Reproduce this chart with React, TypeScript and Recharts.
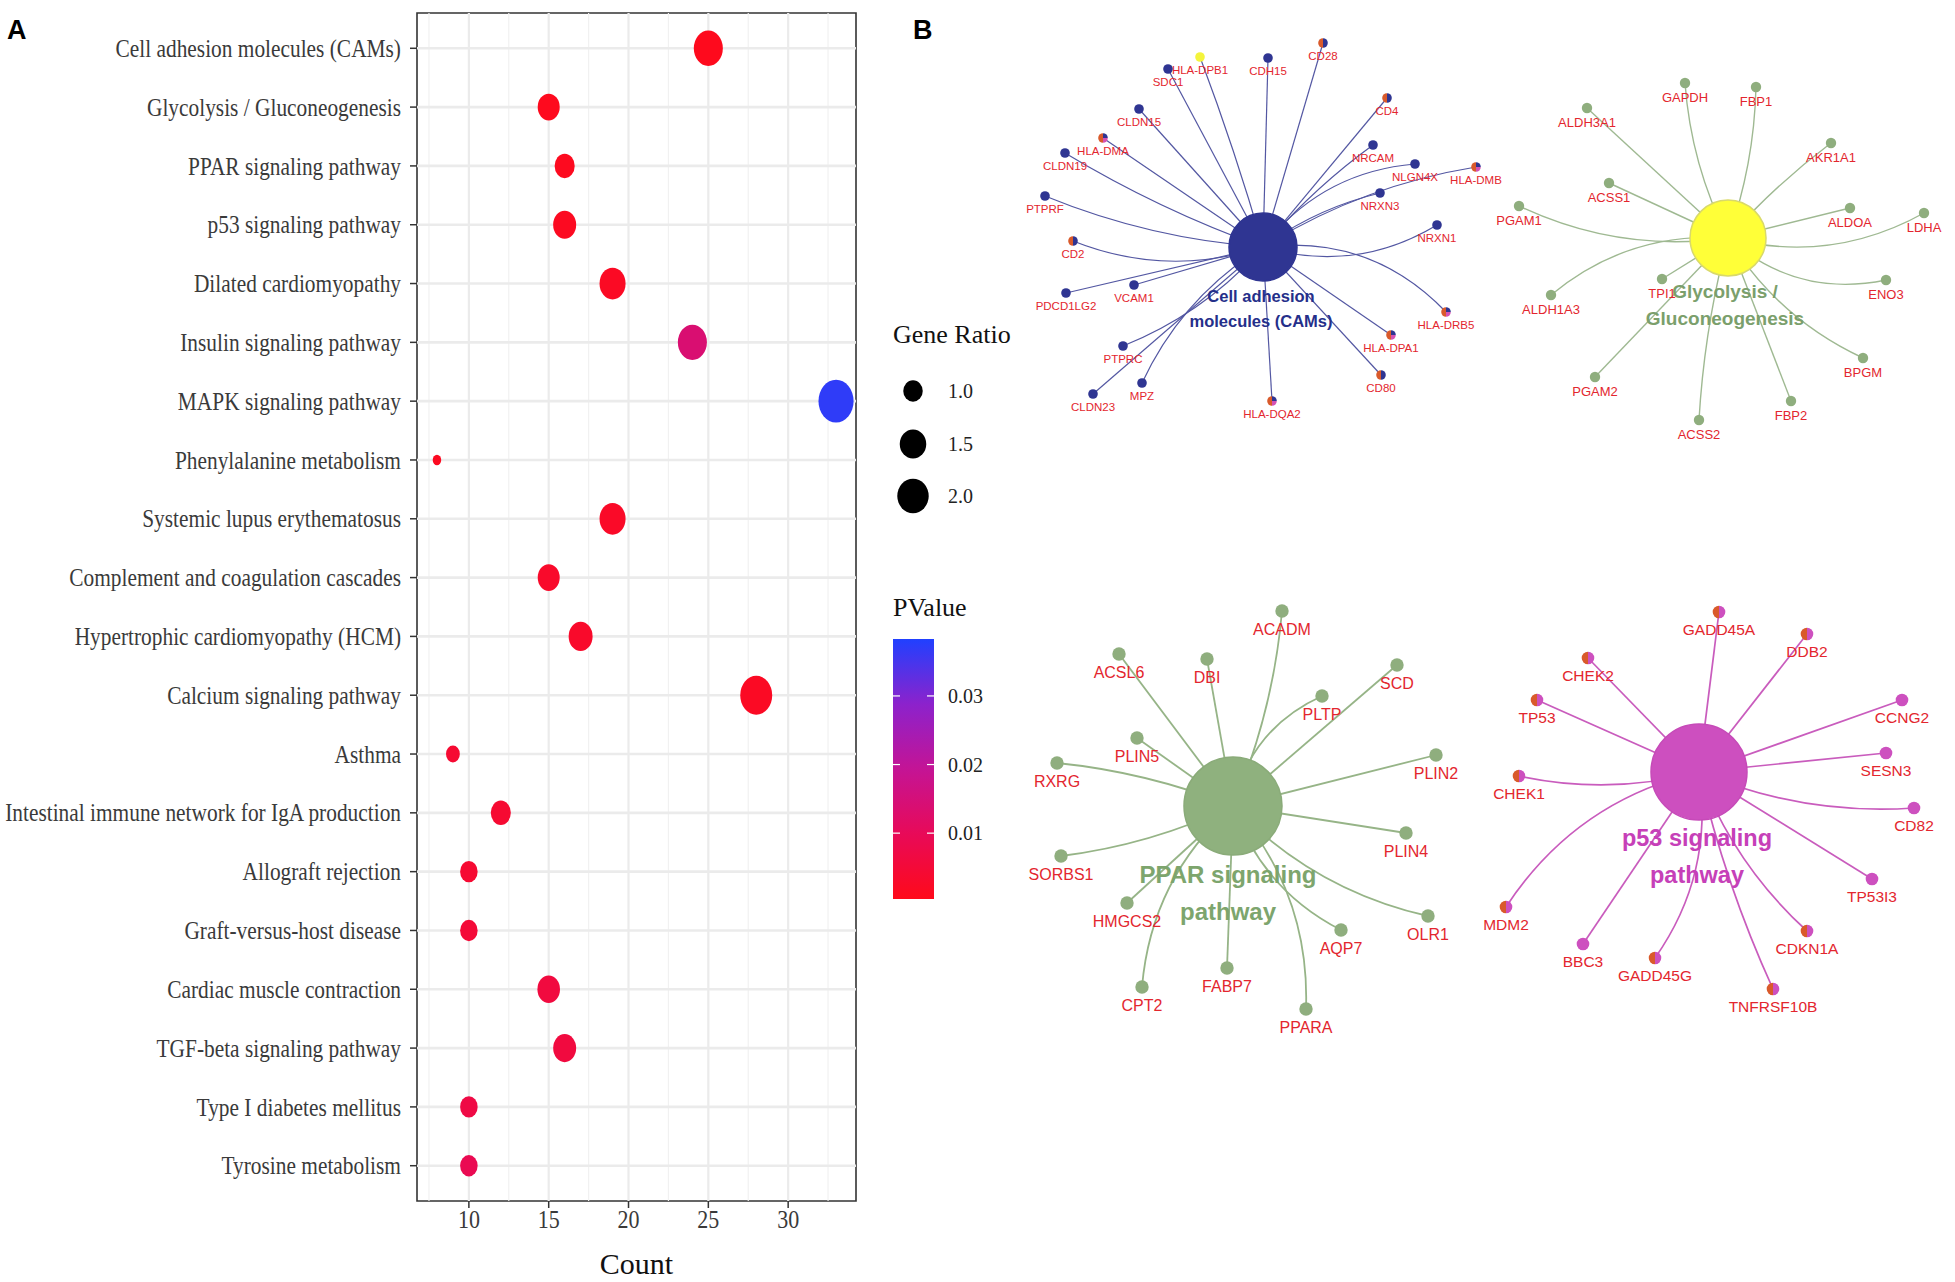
import React from "react";
import { ScatterChart, Scatter, XAxis, YAxis, ReferenceLine, ReferenceArea } from "recharts";

// ---- panel A: KEGG enrichment dot plot ----
const pathways = [
  "Cell adhesion molecules (CAMs)",
  "Glycolysis / Gluconeogenesis",
  "PPAR signaling pathway",
  "p53 signaling pathway",
  "Dilated cardiomyopathy",
  "Insulin signaling pathway",
  "MAPK signaling pathway",
  "Phenylalanine metabolism",
  "Systemic lupus erythematosus",
  "Complement and coagulation cascades",
  "Hypertrophic cardiomyopathy (HCM)",
  "Calcium signaling pathway",
  "Asthma",
  "Intestinal immune network for IgA production",
  "Allograft rejection",
  "Graft-versus-host disease",
  "Cardiac muscle contraction",
  "TGF-beta signaling pathway",
  "Type I diabetes mellitus",
  "Tyrosine metabolism",
];
const counts = [25, 15, 16, 16, 19, 24, 33, 8, 19, 15, 17, 28, 9, 12, 10, 10, 15, 16, 10, 10];
const geneRatios = [1.74, 1.15, 1.03, 1.22, 1.46, 1.74, 2.45, 0.7, 1.46, 1.15, 1.29, 2.06, 0.77, 1.03, 0.9, 0.9, 1.19, 1.22, 0.9, 0.9];
const pValues = [0.0008, 0.001, 0.0012, 0.0015, 0.002, 0.0138, 0.037, 0.0015, 0.0025, 0.003, 0.003, 0.002, 0.004, 0.004, 0.004, 0.005, 0.006, 0.006, 0.007, 0.009];

const countTicks = [10, 15, 20, 25, 30];
const countMajor = [10, 15, 20, 25, 30];
const countMinor = [7.5, 12.5, 17.5, 22.5, 27.5, 32.5];
const ratioBreaks = [1.0, 1.5, 2.0];
const pBreaks = [0.01, 0.02, 0.03];

const P_MIN = 0.0004;
const P_MAX = 0.0383;
const R_MIN = 0.7;
const R_MAX = 2.5;

// ---- panel B: gene-concept networks ----
// [gene, layout x, layout y, membership colours, edge bend]
type Gene = [string, number, number, string, number];

const camsHub = [1263, 247];
const camsGenes: Gene[] = [
  ["HLA-DPB1", 1200, 57, "y", 0.02],
  ["SDC1", 1168, 69, "b", 0],
  ["CDH15", 1268, 58, "b", 0],
  ["CD28", 1323, 43, "ob", 0],
  ["CLDN15", 1139, 109, "b", 0],
  ["CD4", 1387, 98, "ob", 0],
  ["HLA-DMA", 1103, 138, "opb", 0],
  ["NRCAM", 1373, 145, "b", -0.06],
  ["CLDN19", 1065, 153, "b", -0.05],
  ["NLGN4X", 1415, 164, "b", -0.22],
  ["HLA-DMB", 1476, 167, "opb", -0.1],
  ["NRXN3", 1380, 193, "b", -0.1],
  ["PTPRF", 1045, 196, "b", -0.08],
  ["NRXN1", 1437, 225, "b", 0.22],
  ["CD2", 1073, 241, "ob", -0.18],
  ["VCAM1", 1134, 285, "b", 0],
  ["PDCD1LG2", 1066, 293, "b", 0],
  ["HLA-DRB5", 1446, 312, "opb", -0.25],
  ["HLA-DPA1", 1391, 335, "opb", 0],
  ["PTPRC", 1123, 346, "b", -0.12],
  ["CD80", 1381, 375, "ob", 0],
  ["MPZ", 1142, 383, "b", 0.15],
  ["CLDN23", 1093, 394, "b", 0],
  ["HLA-DQA2", 1272, 401, "opb", 0],
];

const glycoHub = [1728, 238];
const glycoGenes: Gene[] = [
  ["GAPDH", 1685, 83, "g", -0.1],
  ["FBP1", 1756, 87, "g", 0.08],
  ["ALDH3A1", 1587, 108, "g", 0],
  ["AKR1A1", 1831, 143, "g", -0.05],
  ["ACSS1", 1609, 183, "g", 0],
  ["PGAM1", 1519, 206, "g", -0.15],
  ["ALDOA", 1850, 208, "g", 0],
  ["LDHA", 1924, 213, "g", 0.2],
  ["TPI1", 1662, 279, "g", 0],
  ["ENO3", 1886, 280, "g", 0.25],
  ["ALDH1A3", 1551, 295, "g", 0.2],
  ["BPGM", 1863, 358, "g", 0.15],
  ["PGAM2", 1595, 377, "g", 0],
  ["FBP2", 1791, 401, "g", 0],
  ["ACSS2", 1699, 420, "g", 0.05],
];

const pparHub = [1233, 806];
const pparGenes: Gene[] = [
  ["ACADM", 1282, 611, "g", 0.08],
  ["ACSL6", 1119, 654, "g", 0],
  ["DBI", 1207, 659, "g", 0],
  ["SCD", 1397, 665, "g", 0],
  ["PLTP", 1322, 696, "g", -0.25],
  ["PLIN5", 1137, 738, "g", 0],
  ["PLIN2", 1436, 755, "g", 0],
  ["RXRG", 1057, 763, "g", 0.07],
  ["PLIN4", 1406, 833, "g", 0],
  ["SORBS1", 1061, 856, "g", -0.08],
  ["HMGCS2", 1127, 903, "g", 0],
  ["OLR1", 1428, 916, "g", 0.15],
  ["AQP7", 1341, 930, "g", 0.2],
  ["FABP7", 1227, 968, "g", 0],
  ["CPT2", 1142, 987, "g", 0.2],
  ["PPARA", 1306, 1009, "g", -0.2],
];

const p53Hub = [1699, 772];
const p53Genes: Gene[] = [
  ["GADD45A", 1719, 612, "om", 0],
  ["DDB2", 1807, 634, "om", 0],
  ["CHEK2", 1588, 658, "om", 0],
  ["CCNG2", 1902, 700, "m", 0],
  ["TP53", 1537, 700, "om", 0],
  ["SESN3", 1886, 753, "m", 0],
  ["CHEK1", 1519, 776, "om", -0.12],
  ["CD82", 1914, 808, "m", 0.12],
  ["TP53I3", 1872, 879, "m", 0],
  ["MDM2", 1506, 907, "om", 0.2],
  ["CDKN1A", 1807, 931, "om", 0.12],
  ["BBC3", 1583, 944, "m", 0],
  ["GADD45G", 1655, 958, "om", -0.2],
  ["TNFRSF10B", 1773, 989, "om", 0.05],
];

const SERIF = "'Liberation Serif', 'Times New Roman', serif";
const SANS = "'Liberation Sans', Arial, sans-serif";

const rampStops = ["#ff0a1a", "#e80a58", "#c41495", "#8c22cc", "#2040ff"];

const memberFill: Record<string, string> = {
  b: "#2f3592",
  o: "#d95a2b",
  p: "#d452b4",
  y: "#f4f43c",
  g: "#8fae7e",
  m: "#cd50bf",
};

function hexRgb(h: string) {
  const n = parseInt(h.slice(1), 16);
  return [(n >> 16) & 255, (n >> 8) & 255, n & 255];
}

function pColor(p: number) {
  const t = Math.max(0, Math.min(1, (p - P_MIN) / (P_MAX - P_MIN)));
  const seg = t * (rampStops.length - 1);
  const i = Math.min(rampStops.length - 2, Math.floor(seg));
  const f = seg - i;
  const a = hexRgb(rampStops[i]);
  const b = hexRgb(rampStops[i + 1]);
  const c = a.map((v, k) => Math.round(v + (b[k] - v) * f));
  return `rgb(${c[0]},${c[1]},${c[2]})`;
}

function dotWidth(r: number) {
  const t = Math.max(0, Math.min(1, (r - R_MIN) / (R_MAX - R_MIN)));
  return 8.5 + 27 * Math.sqrt(t);
}

const dotData = pathways.map((name, i) => ({
  name,
  rank: i + 1,
  count: counts[i],
  ratio: geneRatios[i],
  p: pValues[i],
}));

const PathwayTick = (props: any) => {
  const { x, y, payload } = props;
  return (
    <text
      transform={`translate(${x},${y}) scale(0.855,1)`}
      textAnchor="end"
      dominantBaseline="central"
      fontSize={25}
      fill="#3a3a3a"
      fontFamily={SERIF}
    >
      {pathways[payload.value - 1]}
    </text>
  );
};

const CountTick = (props: any) => {
  const { x, y, payload } = props;
  return (
    <text
      transform={`translate(${x},${y}) scale(0.88,1)`}
      textAnchor="middle"
      dy="0.71em"
      fontSize={25}
      fill="#3a3a3a"
      fontFamily={SERIF}
    >
      {payload.value}
    </text>
  );
};

const EnrichDot = (props: any) => {
  const { cx, cy, payload } = props;
  const w = dotWidth(payload.ratio);
  return <ellipse cx={cx} cy={cy} rx={w / 2} ry={(w * 1.22) / 2} fill={pColor(payload.p)} />;
};

function DotPlot() {
  return (
    <ScatterChart width={870} height={1282} margin={{ top: 13, right: 14, bottom: 0, left: 0 }}>
      <XAxis
        type="number"
        dataKey="count"
        domain={[6.75, 34.25]}
        ticks={countTicks}
        allowDataOverflow
        axisLine={false}
        tickSize={7}
        tickMargin={2}
        tickLine={{ stroke: "#333", strokeWidth: 1.5 }}
        tick={<CountTick />}
        height={81}
        label={{ value: "Count", position: "insideBottom", offset: 8, fontSize: 30, fill: "#111", fontFamily: SERIF }}
      />
      <YAxis
        type="number"
        dataKey="rank"
        domain={[0.4, 20.6]}
        reversed
        allowDataOverflow
        ticks={pathways.map((_, i) => i + 1)}
        interval={0}
        axisLine={false}
        tickSize={7}
        tickMargin={9}
        tickLine={{ stroke: "#333", strokeWidth: 1.5 }}
        tick={<PathwayTick />}
        width={417}
      />
      {countMinor.map((v) => (
        <ReferenceLine key={`mn${v}`} x={v} stroke="#f1f1f1" strokeWidth={1.2} />
      ))}
      {countMajor.map((v) => (
        <ReferenceLine key={`mj${v}`} x={v} stroke="#ebebeb" strokeWidth={2.2} />
      ))}
      {pathways.map((_, i) => (
        <ReferenceLine key={`h${i}`} y={i + 1} stroke="#ebebeb" strokeWidth={2.6} />
      ))}
      <ReferenceArea
        x1={6.75}
        x2={34.25}
        y1={0.4}
        y2={20.6}
        fill="none"
        fillOpacity={0}
        stroke="#333"
        strokeWidth={1.6}
        ifOverflow="visible"
      />
      <Scatter data={dotData} shape={<EnrichDot />} isAnimationActive={false} />
    </ScatterChart>
  );
}

type NetStyle = {
  key: string;
  hub: number[];
  genes: Gene[];
  title: string[];
  hubR: number;
  hubFill: string;
  hubStroke: string;
  hubText: string;
  hubFont: number;
  titleDy: number[];
  titleDx: number;
  edge: string;
  edgeW: number;
  nodeR: number;
  font: number;
  labelDy: number;
};

const nets: NetStyle[] = [
  {
    key: "cams",
    hub: camsHub,
    genes: camsGenes,
    title: ["Cell adhesion", "molecules (CAMs)"],
    hubR: 34,
    hubFill: "#2f3592",
    hubStroke: "#2f3592",
    hubText: "#252f8a",
    hubFont: 16.5,
    titleDy: [49, 74],
    titleDx: -2,
    edge: "#5357a2",
    edgeW: 1.2,
    nodeR: 4.8,
    font: 11.5,
    labelDy: 12.5,
  },
  {
    key: "glyco",
    hub: glycoHub,
    genes: glycoGenes,
    title: ["Glycolysis /", "Gluconeogenesis"],
    hubR: 38,
    hubFill: "#ffff38",
    hubStroke: "#d9d96a",
    hubText: "#7b9f6c",
    hubFont: 19,
    titleDy: [53, 80],
    titleDx: -3,
    edge: "#9fb992",
    edgeW: 1.4,
    nodeR: 5.2,
    font: 13,
    labelDy: 14,
  },
  {
    key: "ppar",
    hub: pparHub,
    genes: pparGenes,
    title: ["PPAR signaling", "pathway"],
    hubR: 49,
    hubFill: "#8fb17e",
    hubStroke: "#8aab79",
    hubText: "#7da56d",
    hubFont: 24,
    titleDy: [68, 105],
    titleDx: -5,
    edge: "#96b487",
    edgeW: 1.8,
    nodeR: 6.7,
    font: 16,
    labelDy: 18,
  },
  {
    key: "p53",
    hub: p53Hub,
    genes: p53Genes,
    title: ["p53 signaling", "pathway"],
    hubR: 48,
    hubFill: "#cd4fbf",
    hubStroke: "#c64ab8",
    hubText: "#c640b8",
    hubFont: 23.5,
    titleDy: [66, 103],
    titleDx: -2,
    edge: "#c95cbd",
    edgeW: 1.7,
    nodeR: 6.3,
    font: 15.5,
    labelDy: 17.5,
  },
];

// Draws hub->gene edges as gentle quadratic arcs, from the pixel points the Scatter hands over.
function makeEdgeRenderer(net: NetStyle) {
  return (props: any) => {
    const pts: { x: number; y: number }[] = props.points || [];
    const paths: React.ReactNode[] = [];
    for (let i = 0; i + 1 < pts.length; i += 2) {
      const a = pts[i];
      const b = pts[i + 1];
      const bend = net.genes[i / 2][4];
      const dx = b.x - a.x;
      const dy = b.y - a.y;
      const mx = (a.x + b.x) / 2 - dy * bend;
      const my = (a.y + b.y) / 2 + dx * bend;
      paths.push(
        <path
          key={i}
          d={`M${a.x},${a.y} Q${mx},${my} ${b.x},${b.y}`}
          fill="none"
          stroke={net.edge}
          strokeWidth={net.edgeW}
        />
      );
    }
    return <g>{paths}</g>;
  };
}

function GeneNode(props: any) {
  const { cx, cy, payload } = props;
  const r = payload.r;
  const m: string = payload.m;
  let body: React.ReactNode;
  if (m.length === 1) {
    body = <circle cx={cx} cy={cy} r={r} fill={memberFill[m]} />;
  } else if (m.length === 2) {
    body = (
      <g>
        <path d={`M${cx},${cy - r} A${r},${r} 0 0 0 ${cx},${cy + r} Z`} fill={memberFill[m[0]]} />
        <path d={`M${cx},${cy - r} A${r},${r} 0 0 1 ${cx},${cy + r} Z`} fill={memberFill[m[1]]} />
      </g>
    );
  } else {
    body = (
      <g>
        <path d={`M${cx},${cy - r} A${r},${r} 0 0 0 ${cx},${cy + r} Z`} fill={memberFill[m[0]]} />
        <path d={`M${cx},${cy} L${cx + r},${cy} A${r},${r} 0 0 1 ${cx},${cy + r} Z`} fill={memberFill[m[1]]} />
        <path d={`M${cx},${cy} L${cx},${cy - r} A${r},${r} 0 0 1 ${cx + r},${cy} Z`} fill={memberFill[m[2]]} />
      </g>
    );
  }
  return (
    <g>
      {body}
      <text
        x={cx}
        y={cy + payload.dy}
        textAnchor="middle"
        dominantBaseline="central"
        fontSize={payload.font}
        fontFamily={SANS}
        fill="#e3262e"
      >
        {payload.name}
      </text>
    </g>
  );
}

function HubNode(props: any) {
  const { cx, cy, payload } = props;
  return <circle cx={cx} cy={cy} r={payload.r} fill={payload.fill} stroke={payload.stroke} strokeWidth={1.5} />;
}

function HubTitle(props: any) {
  const { cx, cy, payload } = props;
  return (
    <g>
      {payload.title.map((t: string, i: number) => (
        <text
          key={t}
          x={cx + payload.dx}
          y={cy + payload.dys[i]}
          textAnchor="middle"
          dominantBaseline="central"
          fontSize={payload.font}
          fontWeight="bold"
          fontFamily={SANS}
          fill={payload.color}
        >
          {t}
        </text>
      ))}
    </g>
  );
}

const Empty = () => <g />;

function NetworkPanel() {
  return (
    <ScatterChart width={955} height={1282} margin={{ top: 0, right: 0, bottom: 0, left: 0 }}>
      <XAxis type="number" dataKey="x" domain={[1000, 1955]} hide allowDataOverflow />
      <YAxis type="number" dataKey="y" domain={[0, 1282]} reversed hide allowDataOverflow />
      {nets.map((n) => {
        const hub = { x: n.hub[0], y: n.hub[1] };
        const star = n.genes.flatMap((g) => [hub, { x: g[1], y: g[2] }]);
        return (
          <Scatter
            key={`e-${n.key}`}
            data={star}
            line={makeEdgeRenderer(n)}
            shape={<Empty />}
            isAnimationActive={false}
          />
        );
      })}
      {nets.map((n) => (
        <Scatter
          key={`h-${n.key}`}
          data={[{ x: n.hub[0], y: n.hub[1], r: n.hubR, fill: n.hubFill, stroke: n.hubStroke }]}
          shape={<HubNode />}
          isAnimationActive={false}
        />
      ))}
      {nets.map((n) => (
        <Scatter
          key={`g-${n.key}`}
          data={n.genes.map((g) => ({
            name: g[0],
            x: g[1],
            y: g[2],
            m: g[3],
            r: n.nodeR,
            font: n.font,
            dy: n.labelDy,
          }))}
          shape={<GeneNode />}
          isAnimationActive={false}
        />
      ))}
      {nets.map((n) => (
        <Scatter
          key={`t-${n.key}`}
          data={[
            {
              x: n.hub[0],
              y: n.hub[1],
              title: n.title,
              dys: n.titleDy,
              dx: n.titleDx,
              font: n.hubFont,
              color: n.hubText,
            },
          ]}
          shape={<HubTitle />}
          isAnimationActive={false}
        />
      ))}
    </ScatterChart>
  );
}

function Legends() {
  const barTop = 339;
  const barBottom = 599;
  const pY = (p: number) => barBottom - ((p - P_MIN) / (P_MAX - P_MIN)) * (barBottom - barTop);
  const ratioY = [91, 144, 196];
  return (
    <svg width={180} height={640} style={{ position: "absolute", left: 870, top: 300 }}>
      <defs>
        <linearGradient id="pgrad" x1="0" y1="1" x2="0" y2="0">
          {rampStops.map((c, i) => (
            <stop key={c} offset={`${(i / (rampStops.length - 1)) * 100}%`} stopColor={c} />
          ))}
        </linearGradient>
      </defs>
      <text x={23} y={43} fontSize={26} fontFamily={SERIF} fill="#111">
        Gene Ratio
      </text>
      {ratioBreaks.map((r, i) => {
        const w = dotWidth(r);
        return (
          <g key={r}>
            <ellipse cx={43} cy={ratioY[i]} rx={w / 2} ry={(w * 1.1) / 2} fill="#000" />
            <text x={78} y={ratioY[i]} dominantBaseline="central" fontSize={20} fontFamily={SERIF} fill="#222">
              {r.toFixed(1)}
            </text>
          </g>
        );
      })}
      <text x={23} y={316} fontSize={26} fontFamily={SERIF} fill="#111">
        PValue
      </text>
      <rect x={23} y={barTop} width={41} height={barBottom - barTop} fill="url(#pgrad)" />
      {pBreaks.map((p) => (
        <g key={p}>
          <line x1={23} x2={30} y1={pY(p)} y2={pY(p)} stroke="#fff" strokeWidth={1.2} />
          <line x1={57} x2={64} y1={pY(p)} y2={pY(p)} stroke="#fff" strokeWidth={1.2} />
          <text x={78} y={pY(p)} dominantBaseline="central" fontSize={20} fontFamily={SERIF} fill="#222">
            {p.toFixed(2)}
          </text>
        </g>
      ))}
    </svg>
  );
}

export default function App() {
  return (
    <div style={{ position: "relative", width: 1955, height: 1282, background: "#fff", overflow: "hidden" }}>
      <style>{"body{margin:0}"}</style>
      <div style={{ position: "absolute", left: 0, top: 0 }}>
        <DotPlot />
      </div>
      <div style={{ position: "absolute", left: 1000, top: 0 }}>
        <NetworkPanel />
      </div>
      <Legends />
      <svg width={1955} height={60} style={{ position: "absolute", left: 0, top: 0, pointerEvents: "none" }}>
        <text x={7} y={39} fontSize={27} fontWeight="bold" fontFamily={SANS} fill="#000">
          A
        </text>
        <text x={913} y={39} fontSize={27} fontWeight="bold" fontFamily={SANS} fill="#000">
          B
        </text>
      </svg>
    </div>
  );
}
